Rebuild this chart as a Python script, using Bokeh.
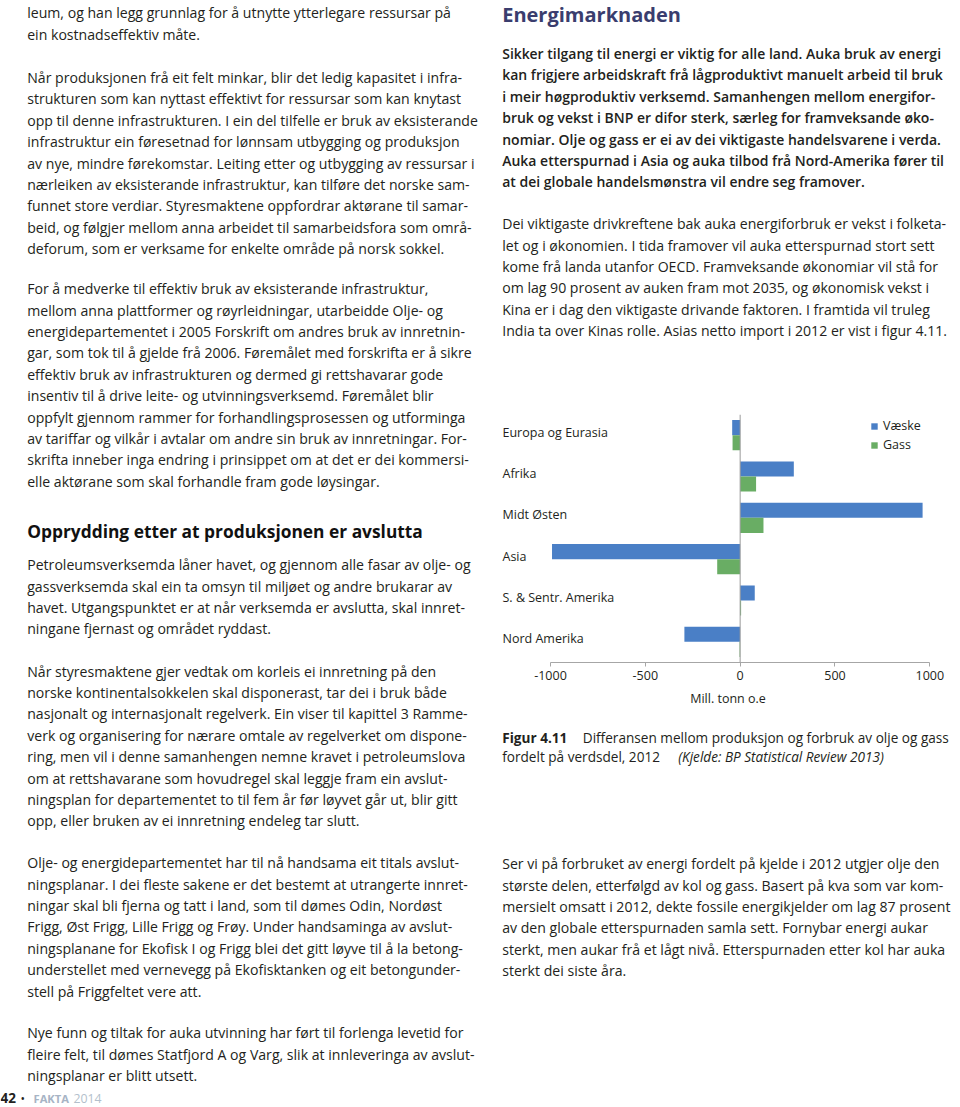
from bokeh.plotting import figure
from bokeh.models import (Range1d, FactorRange, FixedTicker, Span, ColumnDataSource,
                          GlobalInlineStyleSheet)
from bokeh.layouts import row, column
from bokeh.transform import dodge
from bokeh.core.properties import value
from bokeh.embed import file_html
from bokeh.resources import INLINE

# ---------------- chart data ----------------
categories = ["Europa og Eurasia", "Afrika", "Midt Østen", "Asia",
              "S. & Sentr. Amerika", "Nord Amerika"]
vaeske = [-42, 283, 962, -992, 77, -294]
gass = [-40, 84, 123, -121, 5, -3]
series_names = ["Væske", "Gass"]
tick_values = [-1000, -500, 0, 500, 1000]
tick_labels = ["-1000", "-500", "0", "500", "1000"]
axis_title = "Mill. tonn o.e"

# ---------------- page text ----------------
left_p1 = ["leum, og han legg grunnlag for å utnytte ytterlegare ressursar på",
           "ein kostnadseffektiv måte."]
left_p2 = ["Når produksjonen frå eit felt minkar, blir det ledig kapasitet i infra-",
           "strukturen som kan nyttast effektivt for ressursar som kan knytast",
           "opp til denne infrastrukturen. I ein del tilfelle er bruk av eksisterande",
           "infrastruktur ein føresetnad for lønnsam utbygging og produksjon",
           "av nye, mindre førekomstar. Leiting etter og utbygging av ressursar i",
           "nærleiken av eksisterande infrastruktur, kan tilføre det norske sam-",
           "funnet store verdiar. Styresmaktene oppfordrar aktørane til samar-",
           "beid, og følgjer mellom anna arbeidet til samarbeidsfora som områ-",
           "deforum, som er verksame for enkelte område på norsk sokkel."]
left_p3 = ["For å medverke til effektiv bruk av eksisterande infrastruktur,",
           "mellom anna plattformer og røyrleidningar, utarbeidde Olje- og",
           "energidepartementet i 2005 Forskrift om andres bruk av innretnin-",
           "gar, som tok til å gjelde frå 2006. Føremålet med forskrifta er å sikre",
           "effektiv bruk av infrastrukturen og dermed gi rettshavarar gode",
           "insentiv til å drive leite- og utvinningsverksemd. Føremålet blir",
           "oppfylt gjennom rammer for forhandlingsprosessen og utforminga",
           "av tariffar og vilkår i avtalar om andre sin bruk av innretningar. For-",
           "skrifta inneber inga endring i prinsippet om at det er dei kommersi-",
           "elle aktørane som skal forhandle fram gode løysingar."]
left_heading = "Opprydding etter at produksjonen er avslutta"
left_p4 = ["Petroleumsverksemda låner havet, og gjennom alle fasar av olje- og",
           "gassverksemda skal ein ta omsyn til miljøet og andre brukarar av",
           "havet. Utgangspunktet er at når verksemda er avslutta, skal innret-",
           "ningane fjernast og området ryddast."]
left_p5 = ["Når styresmaktene gjer vedtak om korleis ei innretning på den",
           "norske kontinentalsokkelen skal disponerast, tar dei i bruk både",
           "nasjonalt og internasjonalt regelverk. Ein viser til kapittel 3 Ramme-",
           "verk og organisering for nærare omtale av regelverket om dispone-",
           "ring, men vil i denne samanhengen nemne kravet i petroleumslova",
           "om at rettshavarane som hovudregel skal leggje fram ein avslut-",
           "ningsplan for departementet to til fem år før løyvet går ut, blir gitt",
           "opp, eller bruken av ei innretning endeleg tar slutt."]
left_p6 = ["Olje- og energidepartementet har til nå handsama eit titals avslut-",
           "ningsplanar. I dei fleste sakene er det bestemt at utrangerte innret-",
           "ningar skal bli fjerna og tatt i land, som til dømes Odin, Nordøst",
           "Frigg, Øst Frigg, Lille Frigg og Frøy. Under handsaminga av avslut-",
           "ningsplanane for Ekofisk I og Frigg blei det gitt løyve til å la betong-",
           "understellet med vernevegg på Ekofisktanken og eit betongunder-",
           "stell på Friggfeltet vere att."]
left_p7 = ["Nye funn og tiltak for auka utvinning har ført til forlenga levetid for",
           "fleire felt, til dømes Statfjord A og Varg, slik at innleveringa av avslut-",
           "ningsplanar er blitt utsett."]

right_heading = "Energimarknaden"
right_p1 = ["Sikker tilgang til energi er viktig for alle land. Auka bruk av energi",
            "kan frigjere arbeidskraft frå lågproduktivt manuelt arbeid til bruk",
            "i meir høgproduktiv verksemd. Samanhengen mellom energifor-",
            "bruk og vekst i BNP er difor sterk, særleg for framveksande øko-",
            "nomiar. Olje og gass er ei av dei viktigaste handelsvarene i verda.",
            "Auka etterspurnad i Asia og auka tilbod frå Nord-Amerika fører til",
            "at dei globale handelsmønstra vil endre seg framover."]
right_p2 = ["Dei viktigaste drivkreftene bak auka energiforbruk er vekst i folketa-",
            "let og i økonomien. I tida framover vil auka etterspurnad stort sett",
            "kome frå landa utanfor OECD. Framveksande økonomiar vil stå for",
            "om lag 90 prosent av auken fram mot 2035, og økonomisk vekst i",
            "Kina er i dag den viktigaste drivande faktoren. I framtida vil truleg",
            "India ta over Kinas rolle. Asias netto import i 2012 er vist i figur 4.11."]
caption_label = "Figur 4.11"
caption_line1 = "Differansen mellom produksjon og forbruk av olje og gass"
caption_line2 = "fordelt på verdsdel, 2012"
caption_source = "(Kjelde: BP Statistical Review 2013)"
right_p3 = ["Ser vi på forbruket av energi fordelt på kjelde i 2012 utgjer olje den",
            "største delen, etterfølgd av kol og gass. Basert på kva som var kom-",
            "mersielt omsatt i 2012, dekte fossile energikjelder om lag 87 prosent",
            "av den globale etterspurnaden samla sett. Fornybar energi aukar",
            "sterkt, men aukar frå et lågt nivå. Etterspurnaden etter kol har auka",
            "sterkt dei siste åra."]
footer_num = "42"
footer_dot = "•"
footer_word = "FAKTA"
footer_year = "2014"

# ---------------- styling ----------------
FONT = "Open Sans"
TXT = "#231f20"
BODY = 14.1
LH = 21.4
RAISE = 0.36          # baseline correction, in em
BLUE = "#4a7fc6"
GREEN = "#69ad64"

W_L, W_R = 495, 465
H_TOT = 1107
H1, H2 = 395, 321
H3 = H_TOT - H1 - H2


def text_fig(w, h, x0, y0):
    p = figure(width=w, height=h,
               x_range=Range1d(x0, x0 + w), y_range=Range1d(y0 + h, y0),
               output_backend="svg", toolbar_location=None,
               min_border=0, outline_line_color=None,
               x_axis_location=None, y_axis_location=None,
               background_fill_color="white", border_fill_color="white")
    p.xgrid.visible = False
    p.ygrid.visible = False
    return p


def put_lines(p, x, y0, lines, size=BODY, style="normal", color=TXT, lh=LH, font=FONT):
    ys = [y0 - RAISE * size + i * lh for i in range(len(lines))]
    p.text(x=[x] * len(lines), y=ys, text=lines,
           text_font=value(font), text_font_size=f"{size}px",
           text_font_style=style, text_color=color,
           text_baseline="alphabetic", text_align="left")


def put_runs(p, xs, y, runs, sizes, styles, colors, font=FONT):
    p.text(x=xs, y=[y - RAISE * s for s in sizes], text=runs,
           text_font=value(font), text_font_size=[f"{s}px" for s in sizes],
           text_font_style=styles, text_color=colors,
           text_baseline="alphabetic", text_align="left")


# ---- left column ----
left = text_fig(W_L, H_TOT, 0, 0)
LX = 26.7
put_lines(left, LX, 17.3, left_p1)
put_lines(left, LX, 82.0, left_p2)
put_lines(left, LX, 293.3, left_p3)
put_lines(left, LX, 536.7, [left_heading], size=17.35, style="bold", color="#111111")
put_lines(left, LX, 569.3, left_p4)
put_lines(left, LX, 675.7, left_p5)
put_lines(left, LX, 867.3, left_p6)
put_lines(left, LX, 1037.3, left_p7)
put_runs(left, [0, 20, 33, 73], 1102.5,
         [footer_num, footer_dot, footer_word, footer_year],
         [13.5, 12, 11.2, 12.3], ["bold", "normal", "bold", "normal"],
         [TXT, TXT, "#a7b4c5", "#b3bfcc"])

# ---- right top ----
rtop = text_fig(W_R, H1, W_L, 0)
RX = 501.7
put_lines(rtop, RX, 21.6, [right_heading], size=20.0, style="bold", color="#3a3d6e")
put_lines(rtop, RX, 58.0, right_p1, size=14.0, style="normal", font="Open Sans SemiBold")
put_lines(rtop, RX, 228.3, right_p2)

# ---- chart ----
zero_px, unit_px = 739.65, 0.18965          # reference pixel mapping of the value axis
x_start = (W_L - zero_px) / unit_px
x_end = (W_L + W_R - zero_px) / unit_px
label_x = (502 - zero_px) / unit_px
src = ColumnDataSource(dict(cat=categories, vaeske=vaeske, gass=gass))
chart = figure(width=W_R, height=H2,
               y_range=FactorRange(factors=categories[::-1]),
               x_range=Range1d(x_start, x_end),
               output_backend="svg", toolbar_location=None,
               min_border_left=0, min_border_right=0,
               min_border_top=19, min_border_bottom=54,
               outline_line_color=None, y_axis_location=None,
               background_fill_color="white", border_fill_color="white")
chart.xgrid.visible = False
chart.ygrid.visible = False
chart.hbar(y=dodge("cat", 0.1825, range=chart.y_range), left=0, right="vaeske",
           height=0.365, fill_color=BLUE, line_color=None, source=src,
           legend_label=series_names[0])
chart.hbar(y=dodge("cat", -0.1825, range=chart.y_range), left=0, right="gass",
           height=0.365, fill_color=GREEN, line_color=None, source=src,
           legend_label=series_names[1])
chart.add_layout(Span(location=0, dimension="height", line_color="#9a9a9a", line_width=1))
chart.text(x=label_x, y="cat", text="cat", source=src,
           text_font=value(FONT), text_font_size="12.5px", text_color=TXT,
           text_baseline="middle", text_align="left", y_offset=-3)
ax = chart.xaxis[0]
ax.ticker = FixedTicker(ticks=tick_values)
ax.major_label_overrides = {v: l for v, l in zip(tick_values, tick_labels)}
ax.bounds = (tick_values[0], tick_values[-1])
ax.axis_line_color = "#a6a6a6"
ax.major_tick_line_color = "#a6a6a6"
ax.major_tick_out = 4
ax.major_tick_in = 0
ax.minor_tick_line_color = None
ax.major_label_standoff = 4
ax.major_label_text_font = FONT
ax.major_label_text_font_size = "12.5px"
ax.major_label_text_color = TXT
ax.axis_label = axis_title
ax.axis_label_text_font = FONT
ax.axis_label_text_font_size = "12.5px"
ax.axis_label_text_font_style = "normal"
ax.axis_label_text_color = TXT
ax.axis_label_standoff = 7

lg = chart.legend[0]
lg.location = (375, 209)
lg.orientation = "vertical"
lg.glyph_width = 8
lg.glyph_height = 8
lg.label_standoff = 5
lg.label_height = 16
lg.spacing = 2
lg.padding = 0
lg.margin = 0
lg.border_line_color = None
lg.background_fill_alpha = 0
lg.label_text_font = FONT
lg.label_text_font_size = "12.5px"
lg.label_text_color = TXT

# ---- right bottom ----
rbot = text_fig(W_R, H3, W_L, H1 + H2)
put_runs(rbot, [RX, 582.3], 741.7, [caption_label, caption_line1],
         [13.6, 13.6], ["bold", "normal"], [TXT, TXT])
put_runs(rbot, [RX, 677.7], 760.7, [caption_line2, caption_source],
         [13.6, 13.6], ["normal", "italic"], [TXT, TXT])
put_lines(rbot, RX, 868.3, right_p3)

page_css = GlobalInlineStyleSheet(css="html, body { margin: 0 !important; padding: 0 !important; overflow: hidden; }")
page = row(left, column(rtop, chart, rbot, spacing=0), spacing=0, stylesheets=[page_css])
open("out.html", "w").write(file_html(page, INLINE))
